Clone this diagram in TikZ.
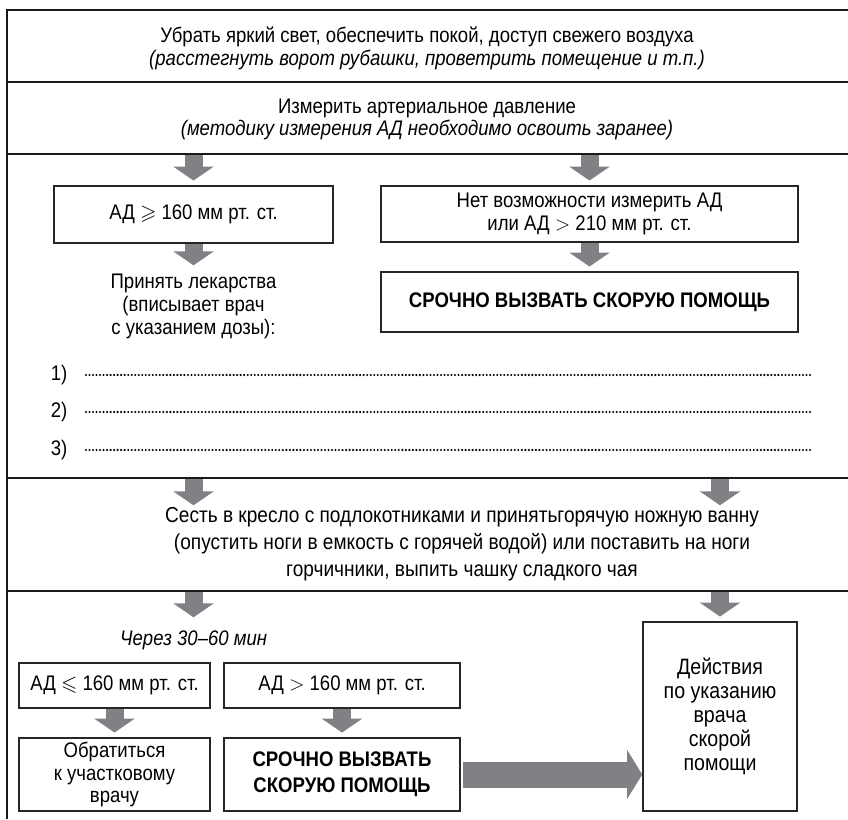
\documentclass[tikz,border=0pt]{standalone}
\usepackage{amssymb}
\usepackage{fontspec}
\setmainfont[FakeStretch=0.88]{Liberation Sans}
\usetikzlibrary{positioning}
\usetikzlibrary{arrows.meta}
\definecolor{arrowgray}{RGB}{128,129,133}
\tikzset{
    rule/.style = {line width=1.7pt,draw=black!90},
    box/.style = {rectangle, line width=1.3pt, draw=black!85, align=center, inner sep=2pt, font=\fontsize{18}{19.5}\selectfont},
    boldbox/.style = {box, font=\bfseries\fontsize{18}{22}\selectfont},
    note/.style = {align=center, font=\fontsize{18}{19.5}\selectfont},
    edgeg/.style = {-{Triangle[width=1.2cm,length=0.42cm]}, line width=0.54cm, arrowgray, shorten >=4pt},
    edgebig/.style = {-{Triangle[width=1.44cm,length=0.45cm]}, line width=0.78cm, arrowgray}, % to the right box
    dotline/.style = {line width=2pt, line cap=round, dash pattern=on 0pt off 3pt}
}
\begin{document}
\begin{tikzpicture}[x=0.03cm,y=-0.03cm]
  \useasboundingbox (0,0) rectangle (848,819);
  % frame and rules
  \draw[rule] (7,819) -- (7,10) -- (848,10);
  \foreach \y in {82,154,478,591}
    \draw[rule] (7,\y) -- (848,\y);

  \node[note] (light) at (427,48.5) {Убрать яркий свет, обеспечить покой, доступ свежего воздуха\\
    {\itshape (расстегнуть ворот рубашки, проветрить помещение и т.п.)}};
  \node[note] (measure) at (427,119.5) {Измерить артериальное давление\\
    {\itshape (методику измерения АД необходимо освоить заранее)}};

  \node[box, minimum width=8.37cm, minimum height=1.71cm] (high) at (193.5,214.5) {АД $\geqslant$ 160 мм рт. ст.};
  \node[box, minimum width=12.51cm, minimum height=1.68cm] (nomeas) at (589.5,214) {Нет возможности измерить АД\\или АД $>$ 210 мм рт. ст.};
  \node[note, anchor=north] (drugs) at (193.5,270) {Принять лекарства\\(вписывает врач\\с указанием дозы):};
  \node[boldbox, minimum width=12.51cm, minimum height=1.8cm] (call) at (589.5,302) {СРОЧНО ВЫЗВАТЬ СКОРУЮ ПОМОЩЬ};

  \foreach \i/\y in {1/375,2/412,3/450}{
    \node[note] (n\i) at (59,\y) {\i)};
    \draw[dotline] (86,\y) -- (811,\y);
  }

  \node[note, font=\fontsize{18.5}{23}\selectfont] (sit) at (462,544) {Сесть в кресло с подлокотниками и принятьгорячую ножную ванну\\
    (опустить ноги в емкость с горячей водой) или поставить на ноги\\
    горчичники, выпить чашку сладкого чая};
  \node[note, font=\itshape\fontsize{18}{19}\selectfont, anchor=west] (wait) at (116,640) {Через 30–60 мин};

  \node[box, minimum width=5.73cm, minimum height=1.35cm] (low) at (114.5,685.5) {АД $\leqslant$ 160 мм рт. ст.};
  \node[box, minimum width=7.08cm, minimum height=1.35cm] (over) at (342,685.5) {АД $>$ 160 мм рт. ст.};
  \node[box, minimum width=5.73cm, minimum height=2.19cm] (doctor) at (114.5,774.5) {Обратиться\\к участковому\\врачу};
  \node[boldbox, minimum width=7.08cm, minimum height=2.19cm] (call2) at (342,774.5) {СРОЧНО ВЫЗВАТЬ\\СКОРУЮ ПОМОЩЬ};
  \node[box, minimum width=4.62cm, minimum height=5.67cm, font=\fontsize{19}{20.5}\selectfont] (act) at (720,716.5) {Действия\\по указанию\\врача\\скорой\\помощи};

  % arrows
  \coordinate (a1) at (193.5,155);
  \coordinate (a2) at (589.5,155);
  \coordinate (a3) at (193.5,479);
  \coordinate (a3e) at (193.5,510);
  \coordinate (a4) at (720,479);
  \coordinate (a4e) at (720,510);
  \coordinate (a5) at (193.5,592);
  \coordinate (a5e) at (193.5,622);
  \coordinate (a6) at (720,592);
  \draw[edgeg] (a1) -- (high.north);
  \draw[edgeg] (a2) -- (nomeas.north);
  \draw[edgeg] (high.south) -- (drugs.north);
  \draw[edgeg] (nomeas.south) -- (call.north);
  \draw[edgeg] (a3) -- (a3e);
  \draw[edgeg] (a4) -- (a4e);
  \draw[edgeg] (a5) -- (a5e);
  \draw[edgeg] (a6) -- (act.north);
  \draw[edgeg] (low.south) -- (doctor.north);
  \draw[edgeg] (over.south) -- (call2.north);
  \draw[edgebig] ([xshift=2pt]call2.east) -- (call2.east -| act.west);
\end{tikzpicture}
\end{document}
